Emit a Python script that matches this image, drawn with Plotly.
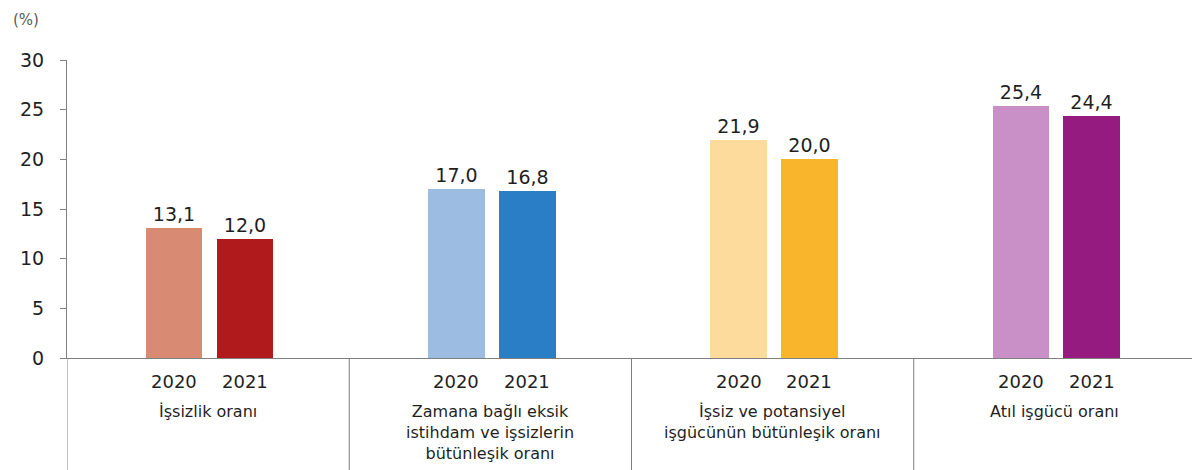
import plotly.graph_objects as go

categories = [
    "İşsizlik oranı",
    "Zamana bağlı eksik<br>istihdam ve işsizlerin<br>bütünleşik oranı",
    "İşsiz ve potansiyel<br>işgücünün bütünleşik oranı",
    "Atıl işgücü oranı",
]
years = ["2020", "2021"]
values_2020 = [13.1, 17.0, 21.9, 25.4]
values_2021 = [12.0, 16.8, 20.0, 24.4]
y_ticks = [0, 5, 10, 15, 20, 25, 30]

colors_2020 = ["#D98A73", "#9DBCE1", "#FDDB9C", "#C890C6"]
colors_2021 = ["#B11A1C", "#2A7EC5", "#F9B52B", "#961B80"]

FONT = "DejaVu Sans, Verdana, sans-serif"
TEXT = "#1F1F1F"
AXIS = "#7F7F7F"

def fmt(v):
    return f"{v:.1f}".replace(".", ",")

xs = list(range(len(categories)))
W = 0.201
offsets = [-0.221, 0.030]

fig = go.Figure()
for vals, cols, off in [(values_2020, colors_2020, offsets[0]), (values_2021, colors_2021, offsets[1])]:
    fig.add_trace(go.Bar(
        x=xs, y=vals, width=W, offset=off,
        marker=dict(color=cols, line=dict(width=0)),
        text=[fmt(v) for v in vals], textposition="outside",
        textfont=dict(family=FONT, size=19, color=TEXT),
        cliponaxis=False, showlegend=False, hoverinfo="skip",
    ))

plot_h = 298.0
plot_w = 1132.0
annotations = []
for i, cat in enumerate(categories):
    for j, yr in enumerate(years):
        annotations.append(dict(
            x=i + offsets[j] + W / 2, xref="x", y=-23 / plot_h, yref="paper",
            text=yr, showarrow=False,
            font=dict(family=FONT, size=18, color=TEXT),
            xanchor="center", yanchor="middle",
        ))
    annotations.append(dict(
        x=i, xref="x", y=-42 / plot_h, yref="paper",
        text=cat, showarrow=False,
        font=dict(family=FONT, size=16, color=TEXT),
        xanchor="center", yanchor="top", align="center",
    ))
annotations.append(dict(
    x=-56 / plot_w, xref="paper", y=1 + 40 / plot_h, yref="paper",
    text="(%)", showarrow=False, xanchor="left", yanchor="middle",
    font=dict(family=FONT, size=15, color="#595959"),
))

shapes = []
for sx in [-0.5, 0.5, 1.5, 2.5, 3.5]:
    shapes.append(dict(
        type="line", xref="x", yref="paper", x0=sx, x1=sx,
        y0=0, y1=-115 / plot_h, line=dict(color=AXIS, width=1),
    ))

fig.update_layout(
    width=1200, height=470,
    margin=dict(l=56, r=12, t=52, b=120),
    paper_bgcolor="white", plot_bgcolor="white",
    bargap=0, barmode="overlay",
    annotations=annotations, shapes=shapes,
    font=dict(family=FONT, color=TEXT),
)
fig.update_xaxes(
    range=[-0.5, 3.5], showticklabels=False, showgrid=False, zeroline=False,
    showline=True, linecolor=AXIS, linewidth=1, ticks="",
)
fig.update_yaxes(
    range=[0, 30], tickvals=y_ticks, ticktext=[str(t) for t in y_ticks],
    showgrid=False, zeroline=False, showline=True, linecolor=AXIS, linewidth=1,
    ticks="outside", ticklen=6, tickcolor=AXIS, ticklabelstandoff=12,
    tickfont=dict(family=FONT, size=19, color=TEXT),
)

fig.write_html("out.html")
